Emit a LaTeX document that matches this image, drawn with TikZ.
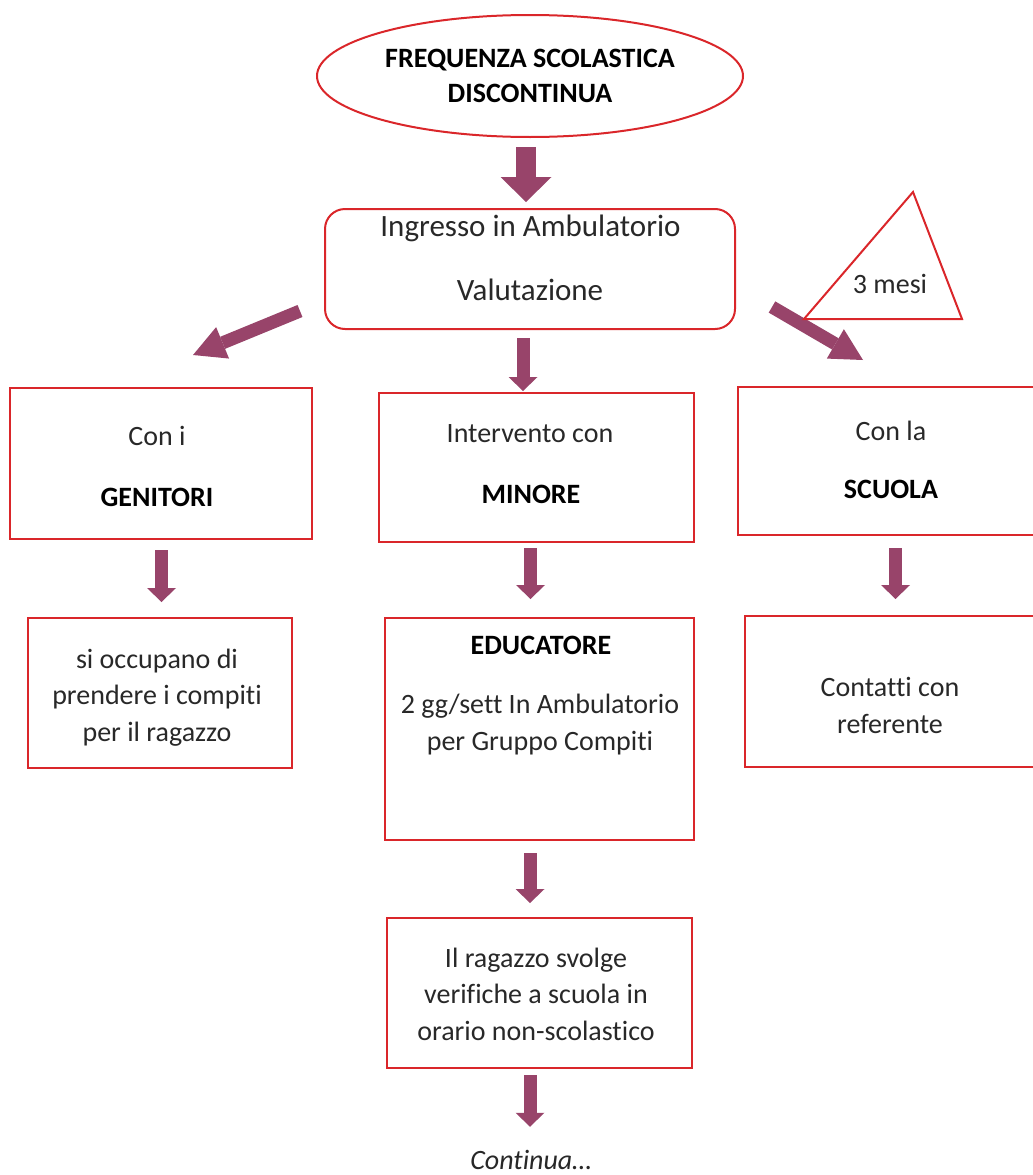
\documentclass[tikz,border=0pt]{standalone}
\usepackage{fontspec}
\setmainfont{Carlito}[Ligatures={NoCommon}]
\usetikzlibrary{arrows.meta,shapes.geometric,calc}
\definecolor{edgered}{RGB}{218,38,42}
\definecolor{plum}{RGB}{152,68,106}
\definecolor{ink}{RGB}{40,40,40}

\begin{document}
\begin{tikzpicture}[x=1pt,y=-1pt,
  box/.style={draw=edgered, line width=2pt, inner sep=0pt, outer sep=0pt},
  txt/.style={font=\fontsize{28}{36.5}\selectfont, text=ink, align=center, anchor=base, inner sep=0pt, outer sep=0pt},
  bigtxt/.style={txt, font=\fontsize{31}{38}\selectfont},
  boldtxt/.style={txt, font=\fontsize{28}{35}\selectfont\bfseries, text=black},
  bigarrow/.style={draw=plum, line width=20pt, -{Triangle[length=25pt,width=51pt,line width=0pt]}},
  downarrow/.style={draw=plum, line width=13pt, -{Triangle[length=14pt,width=29pt,line width=0pt]}},
  slantarrow/.style={draw=plum, line width=13pt, -{Triangle[length=32pt,width=34pt,line width=0pt]}},
]
\clip (0,0) rectangle (1033,1175);

% starting condition
\node[box, ellipse, minimum width=426pt, minimum height=122pt, boldtxt, anchor=center] (ell) at (530,76)
  {FREQUENZA SCOLASTICA\\DISCONTINUA};

% intake and assessment
\node[box, rounded corners=20pt, minimum width=410pt, minimum height=120pt] (ing) at (530,269) {};
\node[bigtxt] (ing1) at (530.5,236) {Ingresso in Ambulatorio};
\node[bigtxt] (ing2) at (530,300) {Valutazione};

% three lines of intervention
\node[box, minimum width=302pt, minimum height=151pt] (gen) at (161,463.5) {};
\node[txt] (gen1) at (157,445) {Con i};
\node[boldtxt] (gen2) at (157,506) {GENITORI};

\node[box, minimum width=315pt, minimum height=149pt] (min) at (536.5,467.5) {};
\node[txt] (min1) at (530,442) {Intervento con};
\node[boldtxt] (min2) at (531,503) {MINORE};

\node[box, minimum width=302pt, minimum height=148pt] (scu) at (889,461) {};
\node[txt] (scu1) at (891,440) {Con la};
\node[boldtxt] (scu2) at (891,498) {SCUOLA};

% follow-up actions (multi-line texts are placed by their last baseline)
\node[box, minimum width=264pt, minimum height=150pt] (occ) at (160,693) {};
\node[txt] (occ1) at (157,741) {si occupano di\\prendere i compiti\\per il ragazzo};

\node[box, minimum width=309pt, minimum height=222pt] (edu) at (539.5,729) {};
\node[boldtxt] (edu1) at (541,654) {EDUCATORE};
\node[txt] (edu2) at (540,750) {2 gg/sett In Ambulatorio\\per Gruppo Compiti};

\node[box, minimum width=295pt, minimum height=151pt] (con) at (892.5,691.5) {};
\node[txt] (con1) at (890,733) {Contatti con\\referente};

\node[box, minimum width=305pt, minimum height=150pt] (rag) at (539.5,993) {};
\node[txt] (rag1) at (536,1040) {Il ragazzo svolge\\verifiche a scuola in\\orario non-scolastico};

\node[txt, font=\fontsize{28}{34}\selectfont\itshape] (cont) at (531,1169) {Continua…};

% block arrows
\draw[bigarrow] ($(ell.south)+(-4,10)$) -- ($(ing.north)+(-4,-7)$);
\draw[downarrow] ($(ing.south)+(-7,9)$) -- ($(min.north)+(-13.5,-2)$);
\draw[slantarrow] ($(ing.south west)+(-25,-18)$) -- ($(gen.north)+(32,-33)$);
\draw[slantarrow] ($(ing.south east)+(37,-22)$) -- ($(scu.north)+(-26,-27)$);
\draw[downarrow] ($(gen.south)+(0.5,11)$) -- ($(occ.north)+(1.5,-16)$);
\draw[downarrow] ($(min.south)+(-6,6)$) -- ($(edu.north)+(-9,-19)$);
\draw[downarrow] ($(scu.south)+(6.5,13)$) -- ($(con.north)+(3,-17)$);
\draw[downarrow] ($(edu.south)+(-9.5,13)$) -- ($(rag.north)+(-9.5,-15)$);
\draw[downarrow] ($(rag.south)+(-9.5,7)$) -- ($(cont.north)+(-1,-23)$);

% time marker
\coordinate (tA) at (913,192);
\coordinate (tB) at (804,319);
\coordinate (tC) at (962,319);
\draw[edgered, line width=2pt, line join=miter] (tA) -- (tB) -- (tC) -- cycle;
\node[txt] (mesi) at (890,293) {3 mesi};
\end{tikzpicture}
\end{document}
